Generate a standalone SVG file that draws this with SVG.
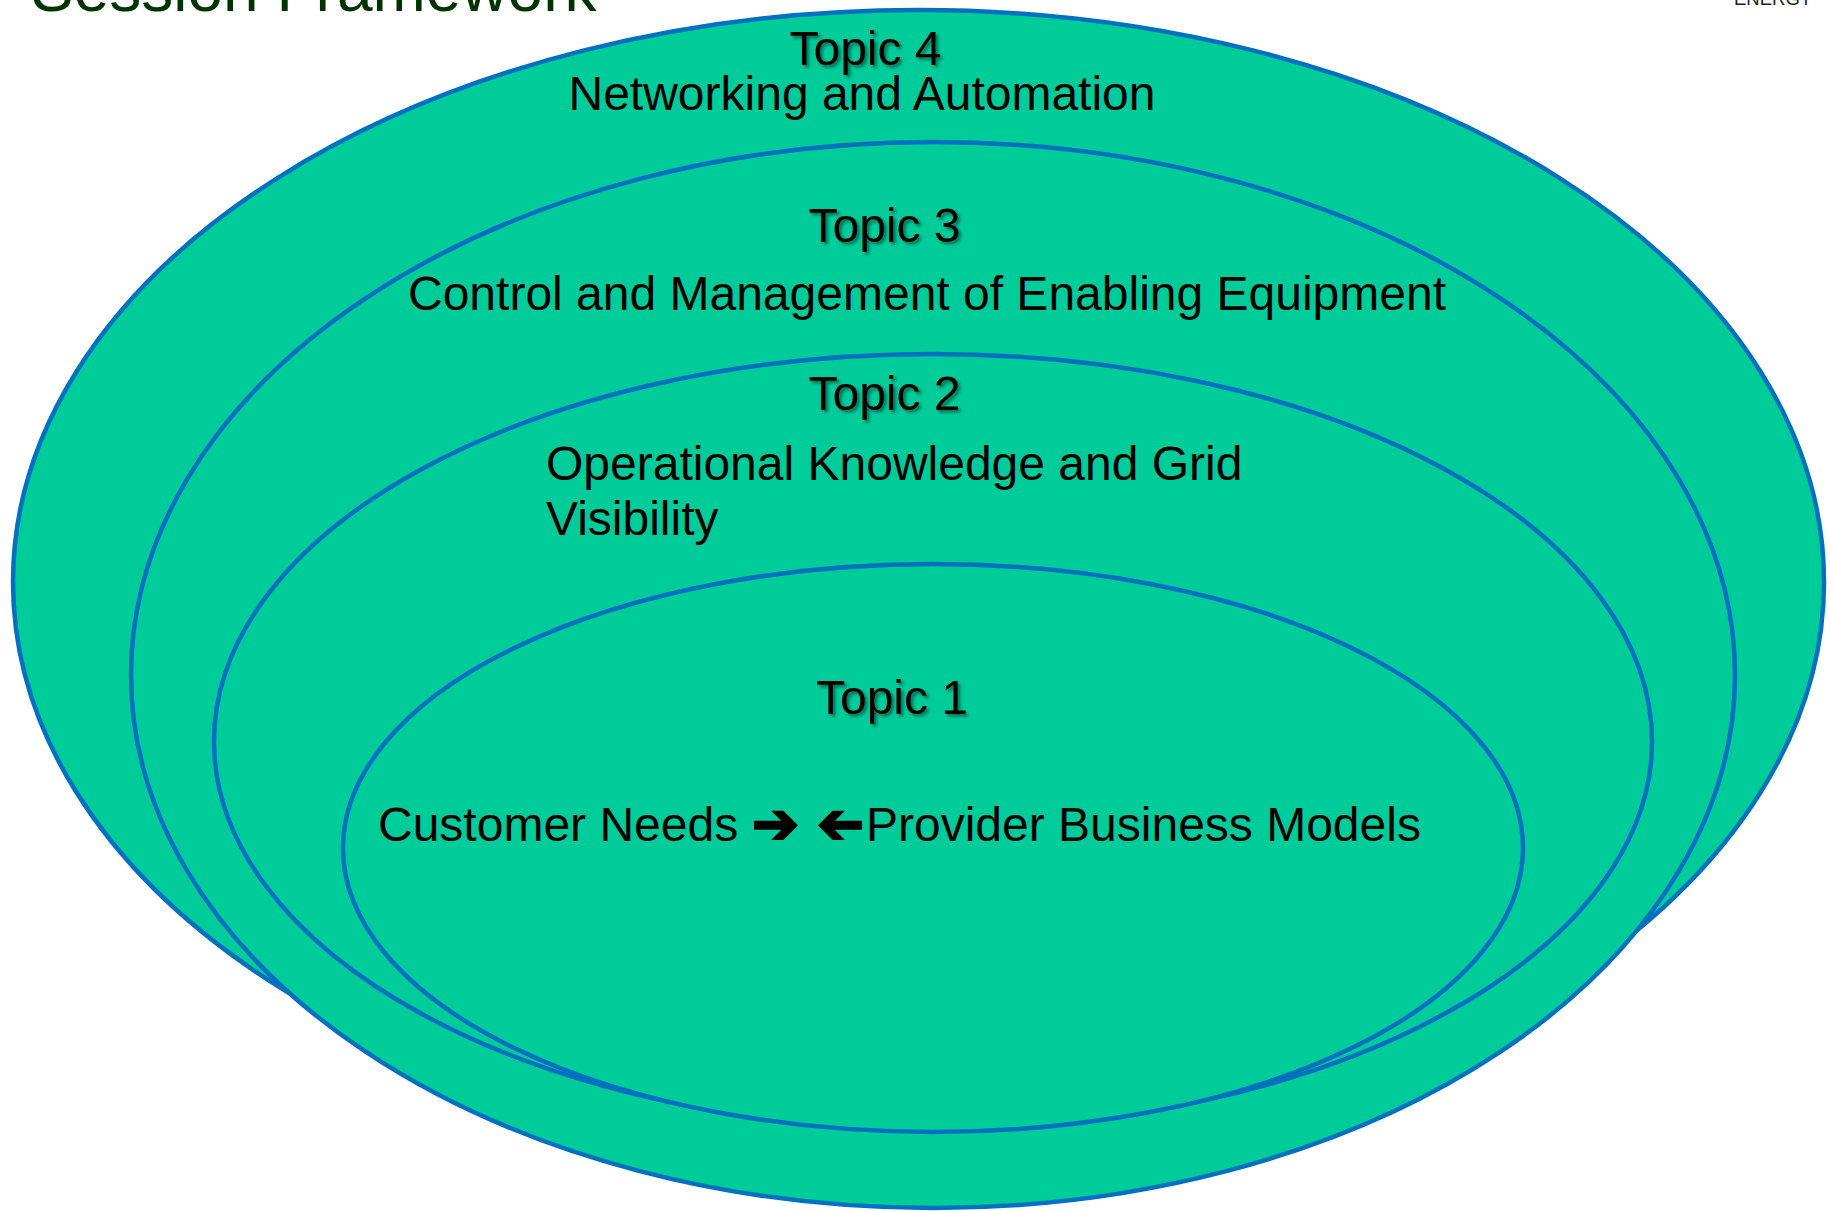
<svg xmlns="http://www.w3.org/2000/svg" width="1830" height="1211" viewBox="0 0 1830 1211">
<defs>
<style>
.ring{fill:#00CC99;stroke:#0070C0;stroke-width:4.5}
.t{font-family:"Liberation Sans",Arial,sans-serif;font-size:48px;fill:#000}
.topic{filter:url(#sh)}
.arr{font-family:"DejaVu Sans",sans-serif;font-size:56px;font-weight:bold;fill:#000;stroke:#000;stroke-width:2.5}
</style>
<filter id="sh" x="-10%" y="-30%" width="130%" height="170%">
<feDropShadow dx="2.5" dy="2.5" stdDeviation="1.5" flood-color="#000" flood-opacity="0.45"/>
</filter>
</defs>
<rect width="1830" height="1211" fill="#fff"/>
<text x="31" y="11" style="font-family:'Liberation Sans',Arial,sans-serif;font-size:64px;fill:#003300">Session Framework</text>
<text x="1734" y="5" style="font-family:'Liberation Sans',Arial,sans-serif;font-size:18.5px;fill:#222">ENERGY</text>
<g id="topic4">
<ellipse class="ring" cx="918.5" cy="582" rx="905.5" ry="572"/>
<text class="t topic" x="865.5" y="65" text-anchor="middle">Topic 4</text>
<text class="t" x="862" y="110" text-anchor="middle">Networking and Automation</text>
</g>
<g id="topic3">
<ellipse class="ring" cx="933" cy="675" rx="802" ry="533"/>
<text class="t topic" x="884.5" y="242" text-anchor="middle">Topic 3</text>
<text class="t" x="927" y="310" text-anchor="middle">Control and Management of Enabling Equipment</text>
</g>
<g id="topic2">
<ellipse class="ring" cx="933" cy="741.5" rx="719" ry="387.5"/>
<text class="t topic" x="884.5" y="410" text-anchor="middle">Topic 2</text>
<text class="t" x="546" y="480">Operational Knowledge and Grid</text>
<text class="t" x="546" y="535">Visibility</text>
</g>
<g id="topic1">
<ellipse class="ring" cx="933" cy="848" rx="590" ry="284"/>
<text class="t topic" x="892" y="714" text-anchor="middle">Topic 1</text>
<text class="t" x="378" y="841">Customer Needs</text>
<text class="arr" x="752" y="843">➔</text>
<text class="arr" transform="translate(864,0) scale(-1,1)" x="0" y="843">➔</text>
<text class="t" x="866" y="841">Provider Business Models</text>
</g>
<g id="connectors"/>
</svg>
